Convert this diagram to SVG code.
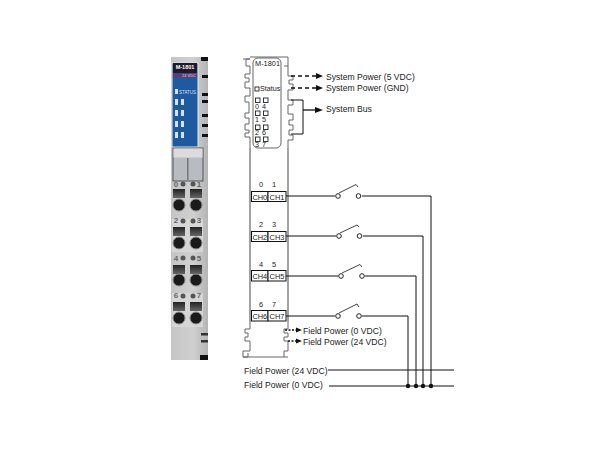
<svg xmlns="http://www.w3.org/2000/svg" width="610" height="450" viewBox="0 0 610 450">
<defs>
<linearGradient id="body" x1="0" x2="1" y1="0" y2="0"><stop offset="0" stop-color="#c4c4c4"/><stop offset="0.6" stop-color="#d0d0d0"/><stop offset="1" stop-color="#b4b4b4"/></linearGradient>
<linearGradient id="sq" x1="0" x2="0" y1="0" y2="1"><stop offset="0" stop-color="#222"/><stop offset="1" stop-color="#666"/></linearGradient>
</defs>
<style>
text{font-family:"Liberation Sans",Arial,sans-serif;fill:#222}
.l{font-size:8.6px}
.s{font-size:7.2px}
.m{font-size:7.4px;text-anchor:middle}
.w{fill:none;stroke:#111;stroke-width:1}
.g{fill:none;stroke:#666;stroke-width:1}
.gb{fill:none;stroke:#999;stroke-width:1.800}
.d{fill:none;stroke:#111;stroke-width:1.300;stroke-dasharray:4 3}
.b{fill:#fff;stroke:#111;stroke-width:1}
.o{fill:#fff;stroke:#222;stroke-width:1}
.led{fill:#fff;stroke:#222;stroke-width:.9}
.sq{fill:url(#sq)}
.c{fill:#1a1a1a;stroke:#888;stroke-width:1}
.n{font-size:8px;font-weight:bold;fill:#666;text-anchor:middle}
.wl{fill:#d8e4f4}
.bk{fill:#111}
</style>
<g id="module-photo">
<rect x="171" y="57" width="37" height="303" fill="url(#body)"/>
<rect x="172" y="63" width="26" height="84" fill="#1d5aa0" stroke="#dfe6ee" stroke-width="1"/>
<rect x="173" y="63" width="24" height="13" fill="#201a28"/>
<rect x="173" y="73" width="24" height="5" fill="#55407c"/>
<text x="185" y="69" style="font-size:5.500px;font-weight:bold;text-anchor:middle;fill:#fff">M-1801</text>
<text x="196" y="77" style="font-size:4px;text-anchor:end;fill:#e0d8f0">24 VDC</text>
<rect x="175" y="89" width="3" height="5" class="wl"/>
<text x="179" y="93.500" style="font-size:4.500px;fill:#cfe0f5">STATUS</text>
<g class="wl">
<rect x="175" y="99" width="3" height="6"/><rect x="181" y="99" width="3" height="6"/>
<rect x="175" y="110" width="3" height="6"/><rect x="181" y="110" width="3" height="6"/>
<rect x="175" y="121" width="3" height="6"/><rect x="181" y="121" width="3" height="6"/>
<rect x="175" y="132" width="3" height="6"/><rect x="181" y="132" width="3" height="6"/>
</g>
<rect x="201" y="57" width="7" height="4" class="bk"/>
<rect x="202" y="75" width="6" height="3" class="bk"/>
<rect x="202" y="93" width="6" height="3" class="bk"/>
<rect x="202" y="100" width="6" height="3" class="bk"/>
<rect x="202" y="114" width="6" height="3" class="bk"/>
<rect x="202" y="124" width="6" height="3" class="bk"/>
<rect x="202" y="134" width="6" height="3" class="bk"/>
<rect x="201" y="333" width="7" height="2.500" fill="#333"/>
<rect x="201" y="340" width="7" height="2.500" fill="#333"/>
<rect x="200" y="355" width="8" height="5" class="bk"/>
<rect x="173" y="148" width="30" height="33" fill="#b8bcc0" stroke="#555" stroke-width="1"/>
<rect x="173.500" y="148.500" width="29" height="9" fill="#dcdcdc"/>
<rect x="187" y="158" width="1.500" height="22" fill="#777"/>
<rect x="172" y="219" width="31" height="33" fill="#d6d6d6"/>
<rect x="172" y="293" width="31" height="34" fill="#d6d6d6"/>
<g id="terminals">
<rect x="173" y="189" width="12" height="9" class="sq"/><rect x="190" y="189" width="12" height="9" class="sq"/><circle cx="179" cy="205" r="6" class="c"/><circle cx="196" cy="205" r="6" class="c"/>
<rect x="173" y="227" width="12" height="9" class="sq"/><rect x="190" y="227" width="12" height="9" class="sq"/><circle cx="179" cy="243" r="6" class="c"/><circle cx="196" cy="243" r="6" class="c"/>
<rect x="173" y="265" width="12" height="9" class="sq"/><rect x="190" y="265" width="12" height="9" class="sq"/><circle cx="179" cy="280" r="6" class="c"/><circle cx="196" cy="280" r="6" class="c"/>
<rect x="173" y="302" width="12" height="9" class="sq"/><rect x="190" y="302" width="12" height="9" class="sq"/><circle cx="179" cy="318" r="6" class="c"/><circle cx="196" cy="318" r="6" class="c"/>
</g>
<text x="176" y="187" class="n">0</text><text x="199" y="187" class="n">1</text>
<text x="176" y="223" class="n">2</text><text x="199" y="223" class="n">3</text>
<text x="176" y="261" class="n">4</text><text x="199" y="261" class="n">5</text>
<text x="176" y="298" class="n">6</text><text x="199" y="298" class="n">7</text>
<circle cx="183" cy="184" r="2.500" fill="#555"/><circle cx="193" cy="184" r="2.500" fill="#555"/>
<circle cx="183" cy="221" r="2.500" fill="#555"/><circle cx="193" cy="221" r="2.500" fill="#555"/>
<circle cx="183" cy="258" r="2.500" fill="#555"/><circle cx="193" cy="258" r="2.500" fill="#555"/>
<circle cx="183" cy="296" r="2.500" fill="#555"/><circle cx="193" cy="296" r="2.500" fill="#555"/>
</g>
<g id="module-outline">
<path class="gb" d="M250 148V322M288 148V322"/>
<path class="g" d="M250 148V137H245V133H249V130H245V124H249V118H245V113H249V102H245V96H250V88H245V82H249V78H245V74H250V66H246V59H250M243 59H250M250 57H288M288 57V66H284M288 66V76H293V80H289V84H293V90H288V100H293V105H288V114H293V120H289V125H293V130H289V135H293V140H288V148"/>
<rect x="253" y="58" width="28" height="90" rx="5" class="g"/>
<path class="g" d="M250 322V329H245V333H248V337H245V341H250V351H243V357H248V353M288 322V329H284V333H288V337H284V341H288V351H284V357M243 357H288"/>
<text x="267.500" y="66" class="m">M-1801</text>
<text x="260" y="91" class="s">Status</text>
<rect x="255" y="87" width="4" height="4" class="led"/>
</g>
<g id="leds">
<rect x="255.500" y="98" width="4.500" height="4.500" class="led"/><rect x="263.500" y="98" width="4.500" height="4.500" class="led"/>
<rect x="255.500" y="111" width="4.500" height="4.500" class="led"/><rect x="263.500" y="111" width="4.500" height="4.500" class="led"/>
<rect x="255.500" y="125" width="4.500" height="4.500" class="led"/><rect x="263.500" y="125" width="4.500" height="4.500" class="led"/>
<rect x="255.500" y="137" width="4.500" height="4.500" class="led"/><rect x="263.500" y="137" width="4.500" height="4.500" class="led"/>
<g class="s" text-anchor="middle">
<text x="257" y="109">0</text><text x="264" y="109">4</text>
<text x="257" y="122">1</text><text x="264" y="122">5</text>
<text x="257" y="135">2</text><text x="264" y="135">6</text>
<text x="257" y="147">3</text><text x="264" y="147">7</text>
</g>
</g>
<g id="connectors">
<path class="d" d="M291 76H316"/><path class="d" d="M291 88H316"/>
<path d="M316 73L323 76L316 79z" class="bk"/><path d="M316 85L323 88L316 91z" class="bk"/>
<path class="w" d="M291 100H303V134H291"/>
<path class="w" style="stroke-width:1.300" d="M303 110H317"/><path d="M315 107L323 110L315 113z" class="bk"/>
<path class="w" d="M286 196H335M362 196H431V386"/>
<path class="w" d="M286 236H336M363 236H423V386"/>
<path class="w" d="M286 276H338M365 276H416V386"/>
<path class="w" d="M286 316H335M362 316H408V386"/>
<path class="w" d="M339 193L356 184.500L358 187M340 233L357 225L359 227M342 273L360 264.500L362 267M339 313L357 304L359 307" style="stroke:#444"/>
<path class="d" style="stroke-dasharray:2 1.500" d="M285 330H297M288 341H297"/>
<path d="M296 327.500L302 330L296 332.500zM296 338.500L302 341L296 343.500z" class="bk"/>
<path class="w" d="M328 370H454M329 386H454"/>
<g class="bk"><circle cx="408" cy="386" r="2.200"/><circle cx="416" cy="386" r="2.200"/><circle cx="423" cy="386" r="2.200"/><circle cx="431" cy="386" r="2.200"/></g>
</g>
<g id="channels">
<rect x="251.500" y="191.500" width="16.500" height="10" class="b"/><rect x="268" y="191.500" width="18" height="10" class="b"/>
<rect x="251.500" y="231.500" width="16.500" height="10" class="b"/><rect x="268" y="231.500" width="18" height="10" class="b"/>
<rect x="251.500" y="270.500" width="16.500" height="10.500" class="b"/><rect x="268" y="270.500" width="18" height="10.500" class="b"/>
<rect x="251.500" y="310.500" width="16.500" height="10.500" class="b"/><rect x="268" y="310.500" width="18" height="10.500" class="b"/>
<g class="m">
<text x="259.800" y="199.500">CH0</text><text x="277" y="199.500">CH1</text>
<text x="259.800" y="239.500">CH2</text><text x="277" y="239.500">CH3</text>
<text x="259.800" y="279">CH4</text><text x="277" y="279">CH5</text>
<text x="259.800" y="319">CH6</text><text x="277" y="319">CH7</text>
<text x="261" y="187">0</text><text x="274" y="187">1</text>
<text x="261" y="227">2</text><text x="274" y="227">3</text>
<text x="261" y="267">4</text><text x="274" y="267">5</text>
<text x="261" y="307">6</text><text x="274" y="307">7</text>
</g>
</g>
<g id="switches">
<circle cx="338" cy="196" r="2.300" class="o"/><circle cx="358.500" cy="196" r="2.300" class="o"/>
<circle cx="339" cy="236" r="2.300" class="o"/><circle cx="359.500" cy="236" r="2.300" class="o"/>
<circle cx="341" cy="276" r="2.300" class="o"/><circle cx="362" cy="276" r="2.300" class="o"/>
<circle cx="338" cy="316" r="2.300" class="o"/><circle cx="359" cy="316" r="2.300" class="o"/>
</g>
<g id="labels" class="l">
<text x="326" y="79.500">System Power (5 VDC)</text>
<text x="326" y="91">System Power (GND)</text>
<text x="326" y="112">System Bus</text>
<text x="303" y="333.500">Field Power (0 VDC)</text>
<text x="303" y="344.500">Field Power (24 VDC)</text>
<text x="244" y="373.500">Field Power (24 VDC)</text>
<text x="244" y="388">Field Power (0 VDC)</text>
</g>
</svg>
